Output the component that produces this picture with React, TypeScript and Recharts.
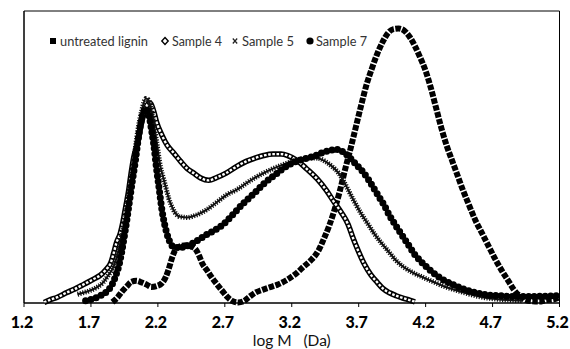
import React from 'react';
import { LineChart, Line, XAxis, YAxis, ReferenceArea } from 'recharts';

const xTicks = [1.2, 1.7, 2.2, 2.7, 3.2, 3.7, 4.2, 4.7, 5.2];
const yTicks = [0, 1, 2, 3, 4, 5, 6, 7, 8, 9, 10];
const seriesNames = ['untreated lignin', 'Sample 4', 'Sample 5', 'Sample 7'];
const axisTitle = 'log M\u00a0\u00a0\u00a0(Da)';

const untreatedLignin: [number, number][] = [
  [1.86, 0.03], [1.9, 0.2], [1.93, 0.38], [1.97, 0.58], [2.0, 0.72], [2.04, 0.76], [2.08, 0.7],
  [2.12, 0.62], [2.15, 0.55], [2.19, 0.58], [2.23, 0.68], [2.26, 0.9], [2.28, 1.15], [2.31, 1.6],
  [2.33, 1.82], [2.37, 1.95], [2.41, 1.98], [2.45, 1.93], [2.48, 1.85], [2.51, 1.6], [2.53, 1.37],
  [2.57, 1.1], [2.6, 0.89], [2.64, 0.65], [2.68, 0.42], [2.72, 0.2], [2.76, 0.06], [2.8, 0.02],
  [2.84, 0.06], [2.88, 0.2], [2.93, 0.36], [2.98, 0.45], [3.03, 0.53], [3.09, 0.62], [3.16, 0.78],
  [3.23, 1.0], [3.29, 1.25], [3.34, 1.45], [3.4, 1.8], [3.44, 2.2], [3.48, 2.65], [3.52, 3.2],
  [3.56, 3.85], [3.6, 4.6], [3.64, 5.3], [3.68, 6.05], [3.72, 6.8], [3.76, 7.5], [3.8, 8.05],
  [3.84, 8.55], [3.88, 8.95], [3.92, 9.25], [3.96, 9.38], [4.0, 9.4], [4.04, 9.33], [4.08, 9.12],
  [4.12, 8.8], [4.16, 8.4], [4.2, 7.95], [4.24, 7.35], [4.28, 6.65], [4.32, 5.95], [4.36, 5.35],
  [4.4, 4.85], [4.44, 4.35], [4.48, 3.85], [4.52, 3.4], [4.57, 2.85], [4.62, 2.4], [4.67, 1.95],
  [4.72, 1.5], [4.77, 1.1], [4.82, 0.74], [4.86, 0.45], [4.9, 0.25], [4.95, 0.1], [5.0, 0.06],
  [5.05, 0.05], [5.1, 0.1], [5.15, 0.12], [5.2, 0.2],
];

const sample4: [number, number][] = [
  [1.35, 0.02], [1.39, 0.1], [1.45, 0.2], [1.52, 0.36], [1.58, 0.48], [1.63, 0.6], [1.68, 0.72],
  [1.72, 0.82], [1.77, 0.95], [1.81, 1.13], [1.85, 1.4], [1.87, 1.71], [1.89, 2.05], [1.92, 2.4],
  [1.94, 2.8], [1.96, 3.3], [1.98, 3.8], [2.0, 4.45], [2.02, 5.0], [2.05, 5.5], [2.08, 6.2],
  [2.11, 6.7], [2.14, 6.85], [2.17, 6.55], [2.19, 6.2], [2.23, 5.75], [2.27, 5.4], [2.32, 5.13],
  [2.37, 4.85], [2.42, 4.6], [2.47, 4.44], [2.52, 4.28], [2.58, 4.2], [2.64, 4.3], [2.71, 4.45],
  [2.79, 4.68], [2.86, 4.85], [2.93, 4.97], [2.99, 5.05], [3.06, 5.1], [3.12, 5.1], [3.17, 5.05],
  [3.24, 4.88], [3.31, 4.6], [3.39, 4.25], [3.46, 3.85], [3.51, 3.5], [3.57, 3.1], [3.62, 2.7],
  [3.66, 2.2], [3.7, 1.75], [3.74, 1.35], [3.79, 0.97], [3.84, 0.7], [3.88, 0.5], [3.93, 0.35],
  [3.98, 0.25], [4.03, 0.17], [4.08, 0.1], [4.12, 0.04],
];

const sample5: [number, number][] = [
  [1.6, 0.3], [1.65, 0.36], [1.7, 0.44], [1.75, 0.55], [1.79, 0.7], [1.83, 0.95], [1.87, 1.25],
  [1.9, 1.7], [1.93, 2.3], [1.96, 3.0], [1.99, 3.9], [2.02, 4.9], [2.05, 5.9], [2.08, 6.6],
  [2.11, 7.0], [2.13, 6.95], [2.16, 6.4], [2.19, 5.55], [2.22, 4.65], [2.24, 4.3], [2.26, 3.95],
  [2.28, 3.6], [2.3, 3.35], [2.33, 3.08], [2.37, 2.95], [2.42, 2.93], [2.48, 3.0], [2.56, 3.18],
  [2.64, 3.45], [2.72, 3.72], [2.79, 3.88], [2.86, 4.1], [2.93, 4.3], [2.99, 4.45], [3.06, 4.6],
  [3.13, 4.73], [3.19, 4.83], [3.26, 4.93], [3.33, 4.97], [3.39, 4.96], [3.45, 4.85], [3.5, 4.68],
  [3.55, 4.45], [3.59, 4.15], [3.63, 3.8], [3.67, 3.45], [3.72, 3.05], [3.77, 2.7], [3.82, 2.35],
  [3.87, 2.05], [3.92, 1.78], [3.97, 1.5], [4.03, 1.25], [4.1, 1.05], [4.18, 0.88], [4.26, 0.72],
  [4.35, 0.55], [4.44, 0.42], [4.53, 0.3], [4.62, 0.2], [4.72, 0.14], [4.82, 0.1], [4.92, 0.08],
];

const sample7: [number, number][] = [
  [1.66, 0.08], [1.72, 0.15], [1.77, 0.25], [1.82, 0.4], [1.86, 0.65], [1.89, 1.0], [1.91, 1.3],
  [1.93, 1.75], [1.95, 2.3], [1.97, 2.9], [1.99, 3.55], [2.01, 4.2], [2.03, 4.8], [2.05, 5.5],
  [2.07, 6.1], [2.09, 6.5], [2.11, 6.65], [2.13, 6.5], [2.15, 6.0], [2.17, 5.4], [2.19, 4.6],
  [2.21, 3.9], [2.23, 3.2], [2.25, 2.7], [2.28, 2.2], [2.31, 1.95], [2.35, 1.9], [2.4, 1.92],
  [2.45, 2.02], [2.5, 2.15], [2.56, 2.33], [2.62, 2.48], [2.69, 2.7], [2.77, 3.08], [2.84, 3.42],
  [2.92, 3.76], [2.99, 4.08], [3.07, 4.37], [3.14, 4.62], [3.21, 4.8], [3.29, 4.93], [3.36, 5.02],
  [3.43, 5.15], [3.49, 5.23], [3.54, 5.26], [3.59, 5.15], [3.64, 4.95], [3.69, 4.7], [3.73, 4.5],
  [3.77, 4.25], [3.81, 3.95], [3.85, 3.65], [3.89, 3.35], [3.93, 3.0], [3.97, 2.7], [4.02, 2.35],
  [4.07, 2.0], [4.12, 1.65], [4.17, 1.4], [4.22, 1.18], [4.28, 0.95], [4.35, 0.75], [4.42, 0.6],
  [4.5, 0.45], [4.58, 0.35], [4.66, 0.28], [4.75, 0.25], [4.85, 0.22], [4.95, 0.22], [5.05, 0.23],
  [5.15, 0.24], [5.2, 0.25],
];

const toRows = (pts: [number, number][]) => pts.map(([x, y]) => ({ x, y }));

const FONT = "Lato, 'Open Sans', sans-serif";

function LegendOverlay() {
  const items = [
    { name: seriesNames[0], mx: 53, tx: 60, tw: 88 },
    { name: seriesNames[1], mx: 165, tx: 172, tw: 50 },
    { name: seriesNames[2], mx: 235, tx: 242, tw: 52 },
    { name: seriesNames[3], mx: 310, tx: 316, tw: 51 },
  ];
  const cy = 41;
  return (
    <svg width={570} height={60} style={{ position: 'absolute', left: 0, top: 0, pointerEvents: 'none' }}>
      <rect x={items[0].mx - 3} y={cy - 3} width={6} height={6} fill="#000" />
      <path
        d={`M${items[1].mx} ${cy - 3.5} L${items[1].mx + 3.2} ${cy} L${items[1].mx} ${cy + 3.5} L${items[1].mx - 3.2} ${cy} Z`}
        fill="#fff"
        stroke="#000"
        strokeWidth={1.4}
      />
      <path
        d={`M${items[2].mx - 2.2} ${cy - 2.5} L${items[2].mx + 2.2} ${cy + 2.5} M${items[2].mx + 2.2} ${cy - 2.5} L${items[2].mx - 2.2} ${cy + 2.5}`}
        stroke="#222"
        strokeWidth={1.2}
      />
      <circle cx={items[3].mx} cy={cy} r={3.6} fill="#000" />
      {items.map((it) => (
        <text
          key={it.name}
          x={it.tx}
          y={cy + 4.5}
          fontFamily={FONT}
          fontSize={13.5}
          fill="#333"
          textLength={it.tw}
          lengthAdjust="spacingAndGlyphs"
        >
          {it.name}
        </text>
      ))}
    </svg>
  );
}

export default function App() {
  return (
    <div style={{ position: 'absolute', left: 0, top: 0, width: 570, height: 349, background: '#fff' }}>
      <LineChart
        width={570}
        height={349}
        margin={{ top: 11, right: 10.5, left: 19, bottom: 0 }}
      >
        <XAxis
          type="number"
          dataKey="x"
          domain={[1.2, 5.2]}
          ticks={xTicks}
          allowDataOverflow
          interval={0}
          height={46}
          tickSize={4}
          tickMargin={10}
          axisLine={{ stroke: '#000' }}
          tickLine={{ stroke: '#000' }}
          tick={{ fill: '#000', fontSize: 16, fontWeight: 900, fontFamily: FONT, dx: -2 }}
          label={{
            value: axisTitle,
            position: 'insideBottom',
            offset: 3,
            style: { fill: '#111', fontSize: 15.5, fontFamily: FONT },
          }}
        />
        <YAxis
          type="number"
          dataKey="y"
          domain={[0, 10]}
          ticks={yTicks}
          width={5}
          tickSize={4}
          tick={false}
          axisLine={{ stroke: '#000' }}
          tickLine={{ stroke: '#000' }}
        />
        <ReferenceArea x1={1.2} x2={5.2} y1={0} y2={10} fill="none" stroke="#000" strokeWidth={1} />
        <Line
          data={toRows(untreatedLignin)}
          dataKey="y"
          type="monotone"
          stroke="#000"
          strokeWidth={6}
          strokeDasharray="5.5 1.5"
          dot={false}
          activeDot={false}
          isAnimationActive={false}
        />
        <Line
          data={toRows(sample4)}
          dataKey="y"
          type="monotone"
          stroke="#000"
          strokeWidth={5.5}
          dot={false}
          activeDot={false}
          isAnimationActive={false}
        />
        <Line
          data={toRows(sample4)}
          dataKey="y"
          type="monotone"
          stroke="#fff"
          strokeWidth={2.4}
          strokeDasharray="2.6 1.6"
          dot={false}
          activeDot={false}
          isAnimationActive={false}
        />
        <Line
          data={toRows(sample5)}
          dataKey="y"
          type="monotone"
          stroke="#111"
          strokeWidth={2}
          dot={false}
          activeDot={false}
          isAnimationActive={false}
        />
        <Line
          data={toRows(sample5)}
          dataKey="y"
          type="monotone"
          stroke="#111"
          strokeWidth={5}
          strokeDasharray="1.2 1.4"
          dot={false}
          activeDot={false}
          isAnimationActive={false}
        />
        <Line
          data={toRows(sample7)}
          dataKey="y"
          type="monotone"
          stroke="#000"
          strokeWidth={7}
          strokeLinecap="round"
          strokeDasharray="0 5.5"
          dot={false}
          activeDot={false}
          isAnimationActive={false}
        />
      </LineChart>
      <LegendOverlay />
    </div>
  );
}
